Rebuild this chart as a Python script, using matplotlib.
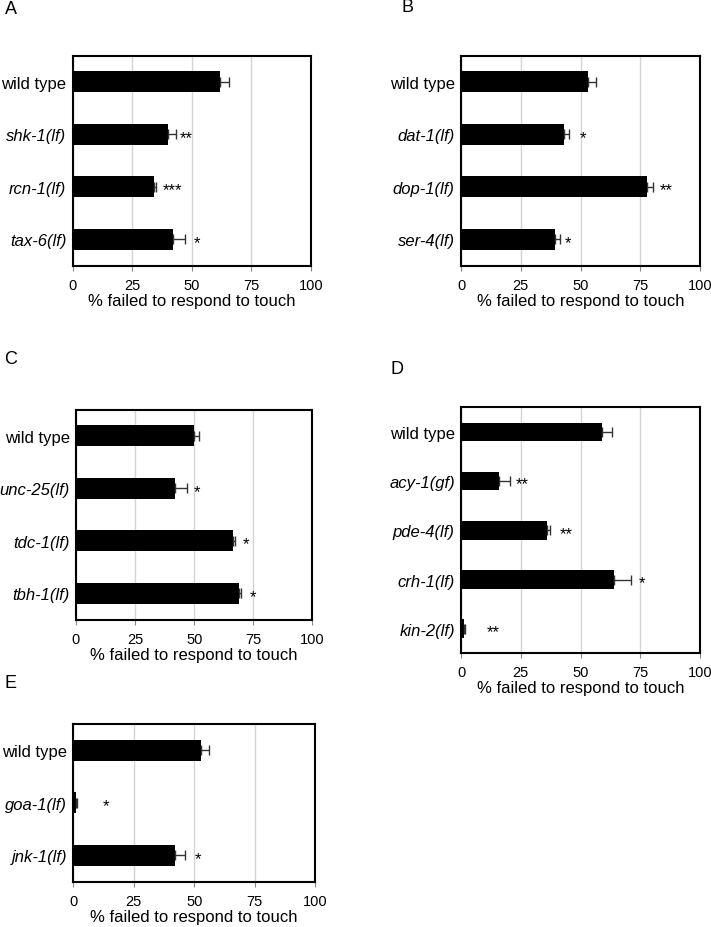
import matplotlib
matplotlib.use("Agg")
import matplotlib.pyplot as plt

plt.rcParams['font.family'] = ['Liberation Sans', 'DejaVu Sans']

W, H = 711, 928

# ---- data ----
a_labels = ['wild type', 'shk-1(lf)', 'rcn-1(lf)', 'tax-6(lf)']
a_values = [61.7, 40.0, 34.0, 42.0]
a_errors = [3.8, 3.3, 0.8, 5.2]
a_stars = ['', '**', '***', '*']
a_star_x = [0, 47.8, 42.0, 52.3]

b_labels = ['wild type', 'dat-1(lf)', 'dop-1(lf)', 'ser-4(lf)']
b_values = [53.0, 43.1, 78.0, 39.2]
b_errors = [3.5, 2.2, 2.2, 2.2]
b_stars = ['', '*', '**', '*']
b_star_x = [0, 50.9, 85.8, 44.9]

c_labels = ['wild type', 'unc-25(lf)', 'tdc-1(lf)', 'tbh-1(lf)']
c_values = [49.9, 42.0, 66.6, 69.1]
c_errors = [2.1, 5.1, 0.5, 0.6]
c_stars = ['', '*', '*', '*']
c_star_x = [0, 51.2, 71.8, 75.0]

d_labels = ['wild type', 'acy-1(gf)', 'pde-4(lf)', 'crh-1(lf)', 'kin-2(lf)']
d_values = [58.9, 16.0, 36.0, 64.2, 1.2]
d_errors = [4.1, 4.4, 1.4, 6.8, 0.3]
d_stars = ['', '**', '**', '*', '**']
d_star_x = [0, 25.7, 43.9, 75.9, 13.5]

e_labels = ['wild type', 'goa-1(lf)', 'jnk-1(lf)']
e_values = [53.0, 1.3, 42.2]
e_errors = [3.0, 0.3, 4.1]
e_stars = ['', '*', '*']
e_star_x = [0, 13.5, 51.4]

xticks = [0, 25, 50, 75, 100]


def px_axes(fig, left, top, right, bottom):
    return fig.add_axes([left / W, 1 - bottom / H, (right - left) / W, (bottom - top) / H])


def bar_panel(ax, labels, values, errors, stars, star_x, bar_h=0.4):
    n = len(labels)
    ys = list(range(n))
    ax.barh(ys, values, height=bar_h, color='black', zorder=3)
    ax.errorbar(values, ys, xerr=[[0] * n, errors], fmt='none', ecolor='#333333',
                elinewidth=1.0, capsize=3.5, capthick=1.0, zorder=4)
    for y, s, sx in zip(ys, stars, star_x):
        if s:
            ax.text(sx, y + 0.06, s, ha='center', va='center', fontsize=12, zorder=5)
    ax.set_xlim(0, 100)
    ax.set_ylim(n - 0.5, -0.5)
    ax.set_xticks(xticks)
    ax.set_xticklabels([str(t) for t in xticks])
    ax.set_yticks(ys)
    ax.set_yticklabels(labels)
    for lab in ax.get_yticklabels():
        if lab.get_text() != 'wild type':
            lab.set_fontstyle('italic')
    ax.tick_params(axis='y', length=0, pad=4.5, labelsize=12)
    ax.tick_params(axis='x', length=3.5, width=0.8, color='#888888', pad=5, labelsize=10.5)
    ax.xaxis.grid(True, color='#d4d4d4', linewidth=1.0, zorder=0)
    ax.set_axisbelow(True)
    for sp in ax.spines.values():
        sp.set_linewidth(1.5)
        sp.set_color('black')
    ax.set_xlabel('% failed to respond to touch', fontsize=12, labelpad=1)


fig = plt.figure(figsize=(W / 100, H / 100), dpi=100)

ax_a = px_axes(fig, 72.7, 56.7, 311, 266.7)
bar_panel(ax_a, a_labels, a_values, a_errors, a_stars, a_star_x)

ax_b = px_axes(fig, 461, 56.7, 700, 266.7)
bar_panel(ax_b, b_labels, b_values, b_errors, b_stars, b_star_x)

ax_c = px_axes(fig, 76, 410.7, 312.3, 620.7)
bar_panel(ax_c, c_labels, c_values, c_errors, c_stars, c_star_x)

ax_d = px_axes(fig, 461, 408.3, 700, 654.3)
bar_panel(ax_d, d_labels, d_values, d_errors, d_stars, d_star_x, bar_h=0.375)

ax_e = px_axes(fig, 73.3, 725, 315, 882.7)
bar_panel(ax_e, e_labels, e_values, e_errors, e_stars, e_star_x)

for letter, x, y in [('A', 11, 10), ('B', 407, 8), ('C', 11, 359), ('D', 397, 370), ('E', 11, 683)]:
    fig.text(x / W, 1 - y / H, letter, ha='center', va='center', fontsize=13)

fig.savefig('out.png', dpi=100)
